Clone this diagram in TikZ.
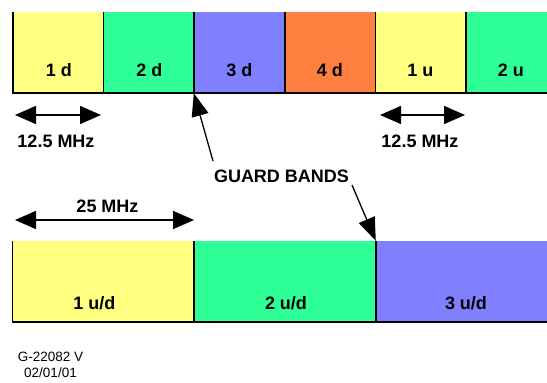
\documentclass[tikz,border=0pt]{standalone}
\usepackage{fontspec}
\setmainfont{Liberation Sans}
\usetikzlibrary{arrows.meta}

\definecolor{bandyel}{HTML}{FFFF80}
\definecolor{bandgrn}{HTML}{2EFF96}
\definecolor{bandblu}{HTML}{8080FF}
\definecolor{bandorg}{HTML}{FF7F3F}

\begin{document}
\begin{tikzpicture}[x=1pt, y=-1pt,
      cell/.style={fill=#1, minimum width=91pt, minimum height=81pt, inner sep=0pt},
      wcell/.style={fill=#1, minimum width=182pt, minimum height=81pt, inner sep=0pt},
      lbl/.style={anchor=base, inner sep=0pt, font=\fontsize{18}{20}\selectfont\bfseries},
      edge/.style={line width=1.5pt},
      dim/.style={{Triangle[length=21pt,width=18pt]}-{Triangle[length=21pt,width=18pt]}, line width=1.5pt},
      gb/.style={-{Triangle[length=23pt,width=17pt]}, line width=1.3pt}]
      \useasboundingbox (0,0) rectangle (547,383);
      % 12.5 MHz channels
      \node[cell=bandyel] (c1d) at (58.5,52.5)  {};
      \node[cell=bandgrn] (c2d) at (149,52.5)   {};
      \node[cell=bandblu] (c3d) at (239.5,52.5) {};
      \node[cell=bandorg] (c4d) at (330.5,52.5) {};
      \node[cell=bandyel] (c1u) at (421,52.5)   {};
      \node[cell=bandgrn] (c2u) at (511.5,52.5) {};
      \draw[edge] (c1d.north west) -- (c1d.south west) -- (c2u.south east);
      \draw[edge] (c2d.north west) -- (c2d.south west);\draw[edge] (c3d.north west) -- (c3d.south west);
      \draw[edge] (c4d.north west) -- (c4d.south west);\draw[edge] (c1u.north west) -- (c1u.south west);
      \draw[edge] (c2u.north west) -- (c2u.south west);
      \node[lbl] (t1d) at (59,76)    {1 d};
      \node[lbl] (t2d) at (149.5,76) {2 d};
      \node[lbl] (t3d) at (239.5,76) {3 d};
      \node[lbl] (t4d) at (330,76)   {4 d};
      \node[lbl] (t1u) at (420.5,76) {1 u};
      \node[lbl] (t2u) at (511,76)   {2 u};
      % 25 MHz channels
      \node[wcell=bandyel] (w1) at (103.5,281.5) {};
      \node[wcell=bandgrn] (w2) at (285,281.5)   {};
      \node[wcell=bandblu] (w3) at (467,281.5)   {};
      \draw[edge] (w1.north west) -- (w1.south west) -- (w3.south east);
      \draw[edge] (w2.north west) -- (w2.south west);\draw[edge] (w3.north west) -- (w3.south west);
      \node[lbl] (tw1) at (94.5,309) {1 u/d};
      \node[lbl] (tw2) at (286,309)  {2 u/d};
      \node[lbl] (tw3) at (466,309)  {3 u/d};
      % widths
      \coordinate (d1a) at (15,115);  \coordinate (d1b) at (101,115);
      \coordinate (d2a) at (380,115); \coordinate (d2b) at (465,115);
      \coordinate (d3a) at (15,220);  \coordinate (d3b) at (194,220);
      \draw[dim] (d1a) -- (d1b);\draw[dim] (d2a) -- (d2b);\draw[dim] (d3a) -- (d3b);
      \node[lbl] (f1) at (56,147)    {12.5 MHz};
      \node[lbl] (f2) at (420,147)   {12.5 MHz};
      \node[lbl] (f3) at (107.5,212) {25 MHz};
      % guard bands
      \node[lbl] (gbt) at (281.5,182) {GUARD BANDS};
      \coordinate (g1) at (213,161); \coordinate (g2) at (352,185);
      \draw[gb] (g1) -- (c3d.south west);\draw[gb] (g2) -- (w3.north west);
      \node[align=center, inner sep=0pt, anchor=north, font=\fontsize{13.5}{16}\selectfont] (tag) at (50.5,352) {G-22082 V\\02/01/01};
    \end{tikzpicture}
\end{document}
